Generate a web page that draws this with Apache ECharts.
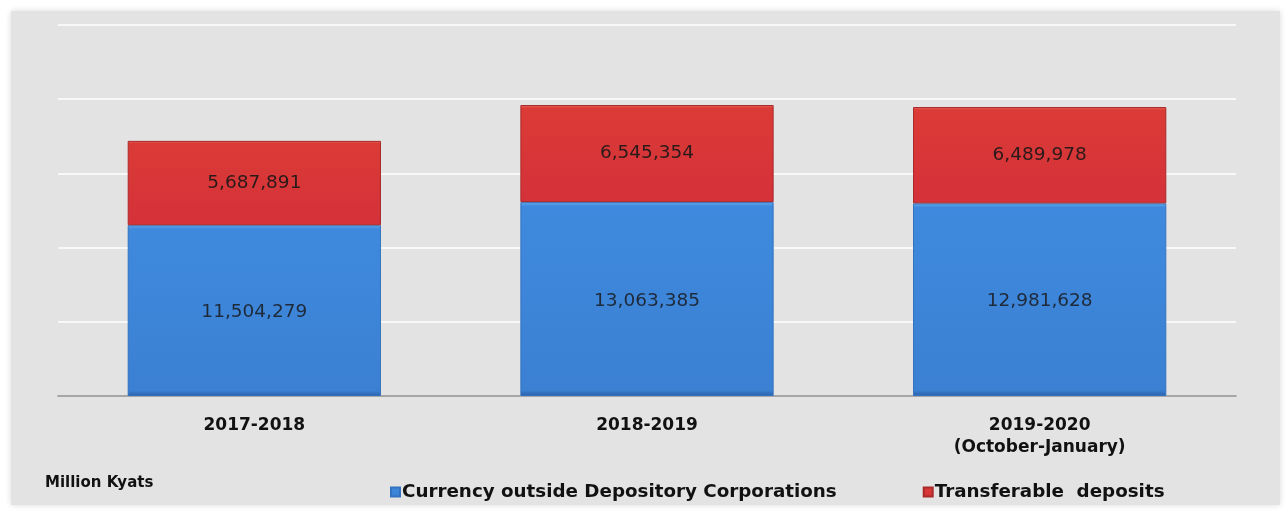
<!DOCTYPE html>
<html>
<head>
<meta charset="utf-8">
<script src="https://cdn.jsdelivr.net/npm/echarts@6/dist/echarts.min.js"></script>
<style>
  html, body { margin: 0; padding: 0; background: #ffffff; }
  #chart1 { width: 1288px; height: 513px; }
</style>
</head>
<body>
<div id="chart1"></div>
<script>
const categories = ['2017-2018', '2018-2019', '2019-2020\n(October-January)']
const currencyData = [11504279, 13063385, 12981628]
const transferData = [5687891, 6545354, 6489978]
const currencyLabels = ['11,504,279', '13,063,385', '12,981,628']
const transferLabels = ['5,687,891', '6,545,354', '6,489,978']
const seriesNames = ['Currency outside Depository Corporations', 'Transferable  deposits']

const FONT = 'DejaVu Sans, Liberation Sans, Arial, sans-serif'

const initChart = () => {
  const chart1 = echarts.init(document.getElementById('chart1'))
  chart1.setOption(getOptionChart1())
}

const getOptionChart1 = () => {
  return {
    backgroundColor: '#ffffff',
    animation: false,
    textStyle: { fontFamily: FONT },
    graphic: [
      {
        type: 'rect',
        z: -10,
        shape: { x: 11, y: 11, width: 1269, height: 494 },
        style: { fill: '#e3e3e3', shadowBlur: 6, shadowColor: 'rgba(0,0,0,0.15)' }
      },
      {
        type: 'text',
        left: 45,
        top: 476,
        style: { text: 'Million Kyats', font: 'bold 15px ' + FONT, fill: '#111' }
      }
    ],
    legend: {
      data: seriesNames,
      left: 385,
      top: 478,
      icon: 'rect',
      itemWidth: 9,
      itemHeight: 9,
      itemGap: 86,
      textStyle: { fontSize: 18.3, fontWeight: 'bold', color: '#111', fontFamily: FONT, padding: [0, 0, 0, -3] }
    },
    grid: {
      left: 58,
      right: 52,
      top: 25,
      bottom: 117
    },
    xAxis: {
      type: 'category',
      data: categories,
      axisLine: { lineStyle: { color: '#8a8a8a', width: 1.5 } },
      axisTick: { show: false },
      axisLabel: {
        margin: 19,
        fontSize: 17,
        fontWeight: 'bold',
        fontFamily: FONT,
        color: '#111',
        lineHeight: 22
      }
    },
    yAxis: {
      type: 'value',
      min: 0,
      max: 25000000,
      interval: 5000000,
      axisLabel: { show: false },
      axisLine: { show: false },
      axisTick: { show: false },
      splitLine: { lineStyle: { color: '#ffffff', width: 1.5 } }
    },
    series: [
      {
        name: seriesNames[0],
        type: 'bar',
        stack: 'total',
        barWidth: '64.5%',
        data: currencyData,
        itemStyle: {
          color: new echarts.graphic.LinearGradient(0, 0, 0, 1, [
            { offset: 0, color: '#6aaef0' },
            { offset: 0.02, color: '#3f8ade' },
            { offset: 0.97, color: '#3b80d2' },
            { offset: 1, color: '#2a5fa8' }
          ]),
          borderColor: '#3272c0',
          borderWidth: 1
        },
        label: {
          show: true,
          position: 'inside',
          offset: [0, 2],
          fontSize: 18.5,
          fontFamily: FONT,
          color: '#1e2a3a',
          formatter: (p) => currencyLabels[p.dataIndex]
        }
      },
      {
        name: seriesNames[1],
        type: 'bar',
        stack: 'total',
        data: transferData,
        itemStyle: {
          color: new echarts.graphic.LinearGradient(0, 0, 0, 1, [
            { offset: 0, color: '#e66a5e' },
            { offset: 0.03, color: '#db3b36' },
            { offset: 1, color: '#d4313a' }
          ]),
          borderColor: '#a82a2a',
          borderWidth: 1
        },
        label: {
          show: true,
          position: 'inside',
          fontSize: 18.5,
          fontFamily: FONT,
          color: '#2a1a1a',
          formatter: (p) => transferLabels[p.dataIndex]
        }
      }
    ]
  }
}

if (typeof window !== 'undefined') {
  initChart()
}
</script>
</body>
</html>
